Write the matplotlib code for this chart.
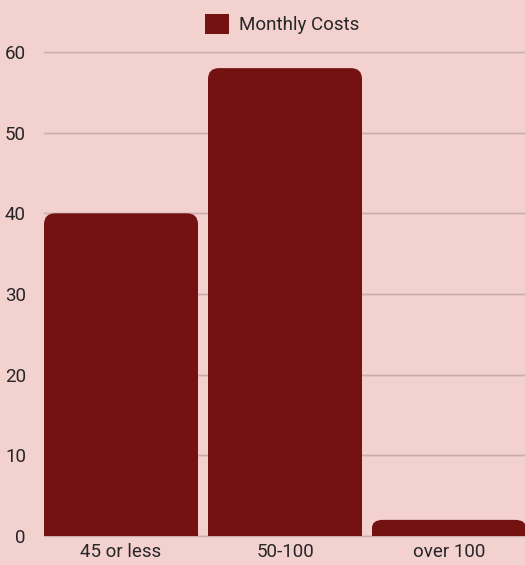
import matplotlib
matplotlib.use("Agg")
import matplotlib.pyplot as plt
from matplotlib.patches import FancyBboxPatch, Rectangle, BoxStyle, Patch

categories = ["45 or less", "50-100", "over 100"]
values = [40, 58, 2]
series_name = "Monthly Costs"
yticks = [0, 10, 20, 30, 40, 50, 60]

BG = "#f3d1cf"
BAR = "#741111"
GRID = "#cbaeac"
TXT = "#262626"

plt.rcParams['font.family'] = ['Roboto', 'DejaVu Sans']

W, H = 525, 565
fig = plt.figure(figsize=(W / 100, H / 100), dpi=100, facecolor=BG)
bw = 0.939
xlo, xhi = -bw / 2, 2.5
unit_px = 164.0
ax_w = (xhi - xlo) * unit_px
ax = fig.add_axes([44 / W, (H - 536) / H, ax_w / W, 484 / H])
ax.set_facecolor(BG)
ax.set_xlim(xlo, xhi)
ax.set_ylim(0, 60)

for s in ax.spines.values():
    s.set_visible(False)
ax.set_yticks(yticks)
ax.set_yticklabels([str(t) for t in yticks])
ax.set_axisbelow(True)
ax.grid(axis='y', color=GRID, linewidth=1.0)
ax.tick_params(axis='both', length=0, labelsize=13.5, colors=TXT)
ax.tick_params(axis='y', pad=13)
ax.tick_params(axis='x', pad=5)
ax.set_xticks(range(len(categories)))
ax.set_xticklabels(categories)
for lbl in ax.get_yticklabels():
    lbl.set_horizontalalignment('right')

for t in yticks:
    ax.plot([xlo, xhi + 1], [t, t], color=GRID, lw=1.0, zorder=0.5, clip_on=False)

bars = ax.bar(range(len(categories)), values, width=bw, color=BAR, label=series_name)
r_px = 11
rx = r_px / unit_px
ry = r_px / (484 / 60)
for b in bars:
    b.set_visible(False)
    x0, y0 = b.get_x(), b.get_y()
    w, h = b.get_width(), b.get_height()
    r_y = min(ry, h / 2)
    p = FancyBboxPatch((x0, y0), w, h,
                       boxstyle=BoxStyle.Round(pad=0, rounding_size=rx),
                       mutation_aspect=r_y / rx,
                       facecolor=BAR, edgecolor='none', zorder=2, clip_on=False)
    ax.add_patch(p)
    ax.add_patch(Rectangle((x0, y0), w, h / 2, facecolor=BAR, edgecolor='none',
                           zorder=2, clip_on=False))

handle = Patch(facecolor=BAR, edgecolor='none')
fig.legend([handle], [series_name], loc='center', bbox_to_anchor=(282 / W, 1 - 24 / H),
           frameon=False, fontsize=13.5, handlelength=1.3, handleheight=1.3,
           handletextpad=0.5, labelcolor=TXT)

fig.savefig("out.png", dpi=100, facecolor=BG)
